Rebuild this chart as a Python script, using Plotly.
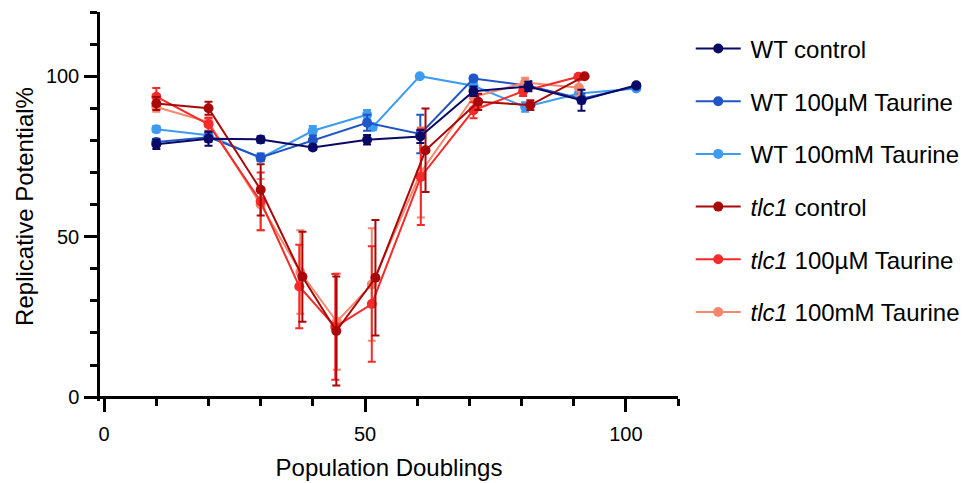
import plotly.graph_objects as go

# ---------------- data ----------------
wt_ctrl_x = [10, 20, 30, 40, 50.4, 60.6, 70.8, 81.3, 91.5, 102]
wt_ctrl_y = [78.8, 80.5, 80.3, 77.8, 80.2, 81.2, 95.3, 96.8, 92.5, 97.2]
wt_ctrl_e = [1.5, 2.2, 1.0, 0.8, 1.5, 2.0, 1.5, 1.5, 3.3, 0.5]

wt_um_x = [10, 20, 30, 40, 50.4, 60.6, 70.8, 81.3, 91.5, 102]
wt_um_y = [79.5, 81.0, 74.7, 80.0, 85.5, 82.0, 99.3, 97.0, 93.0, 96.8]
wt_um_e = [1.0, 1.5, 1.2, 1.5, 2.5, 6.0, 0.8, 1.5, 1.5, 0.5]

wt_mm_x = [10, 20, 30, 40, 50.4, 51.5, 60.5, 70.8, 80.7, 91, 102]
wt_mm_y = [83.5, 81.6, 74.5, 83.0, 88.0, 84.2, 100.0, 97.0, 90.4, 94.6, 96.2]
wt_mm_e = [1.0, 1.0, 0.8, 1.5, 1.5, 1.0, 0.0, 1.0, 1.5, 1.5, 0.5]

tlc_ctrl_x = [10, 20, 30, 38, 44.5, 52, 61.6, 71.7, 81.7, 92.1]
tlc_ctrl_y = [91.5, 90.0, 64.6, 37.5, 20.6, 37.2, 76.9, 92.0, 91.0, 100.0]
tlc_ctrl_e = [2.0, 2.0, 8.0, 14.0, 17.0, 18.0, 13.0, 2.5, 1.5, 0.0]

tlc_um_x = [10, 20, 30, 37.4, 44.3, 51.3, 60.7, 70.8, 80.3, 90.9]
tlc_um_y = [93.6, 85.0, 61.0, 34.5, 21.9, 29.0, 68.6, 89.4, 95.3, 99.8]
tlc_um_e = [2.7, 2.0, 9.0, 13.0, 16.5, 18.0, 15.0, 2.5, 1.5, 0.0]

tlc_mm_x = [10, 20, 30, 37.6, 44.6, 51.3, 60.7, 70.8, 80.7, 91]
tlc_mm_y = [90.4, 85.7, 60.0, 39.0, 23.5, 35.1, 70.0, 93.5, 98.0, 96.4]
tlc_mm_e = [1.5, 1.5, 8.0, 13.0, 15.0, 17.5, 14.0, 1.5, 1.5, 2.5]

names = ["WT control", "WT 100µM Taurine", "WT 100mM Taurine",
         "<i>tlc1</i> control", "<i>tlc1</i> 100µM Taurine", "<i>tlc1</i> 100mM Taurine"]
colors = ["#0a0a66", "#1f55c4", "#3d9bf2", "#a80808", "#f52a2a", "#f5876e"]
series = [
    (wt_ctrl_x, wt_ctrl_y, wt_ctrl_e),
    (wt_um_x, wt_um_y, wt_um_e),
    (wt_mm_x, wt_mm_y, wt_mm_e),
    (tlc_ctrl_x, tlc_ctrl_y, tlc_ctrl_e),
    (tlc_um_x, tlc_um_y, tlc_um_e),
    (tlc_mm_x, tlc_mm_y, tlc_mm_e),
]
draw_order = [2, 1, 5, 4, 3, 0]

FONT = "Liberation Sans, Arial, sans-serif"

fig = go.Figure()
for i in draw_order:
    x, y, e = series[i]
    fig.add_trace(go.Scatter(
        x=x, y=y, name="\u2009" + names[i], mode="lines+markers",
        line=dict(color=colors[i], width=2),
        marker=dict(color=colors[i], size=10),
        error_y=dict(type="data", array=e, visible=True, color=colors[i],
                     thickness=2, width=4),
        legendrank=i + 1, legendgroup=str(i),
    ))

# page has an 8px body margin; figure is sized/placed to compensate
fig.update_layout(
    width=963, height=475,
    margin=dict(l=92, r=293, t=4, b=82, autoexpand=False),
    paper_bgcolor="white", plot_bgcolor="white",
    font=dict(family=FONT, size=20, color="black"),
    showlegend=True,
    legend=dict(x=1.022, y=0.963, xanchor="left", yanchor="top",
                font=dict(family=FONT, size=24, color="black"),
                tracegroupgap=18.5, itemwidth=45, bgcolor="rgba(0,0,0,0)"),
    xaxis=dict(range=[-0.8, 110], tickvals=[0, 50, 100], ticks="outside",
               ticklen=13, tickwidth=2.5, tickcolor="black",
               showline=True, linecolor="black", linewidth=2.5,
               showgrid=False, zeroline=False, automargin=False,
               anchor="free", position=1.2 / 121.2, ticklabelstandoff=5,
               minor=dict(tickvals=list(range(10, 111, 10)), ticks="outside",
                          ticklen=7, tickwidth=2.5, tickcolor="black", showgrid=False),
               tickfont=dict(size=20),
               title=dict(text="Population Doublings", font=dict(size=24), standoff=15)),
    yaxis=dict(range=[-1.2, 120], tickvals=[0, 50, 100], ticks="outside",
               ticklen=13, tickwidth=2.5, tickcolor="black",
               showline=True, linecolor="black", linewidth=2.5,
               showgrid=False, zeroline=False, automargin=False,
               ticklabelstandoff=1,
               minor=dict(tickvals=list(range(10, 121, 10)), ticks="outside",
                          ticklen=7, tickwidth=2.5, tickcolor="black", showgrid=False),
               tickfont=dict(size=20),
               title=dict(text="Replicative Potential%", font=dict(size=24), standoff=6)),
)

fig.write_html("out.html")
